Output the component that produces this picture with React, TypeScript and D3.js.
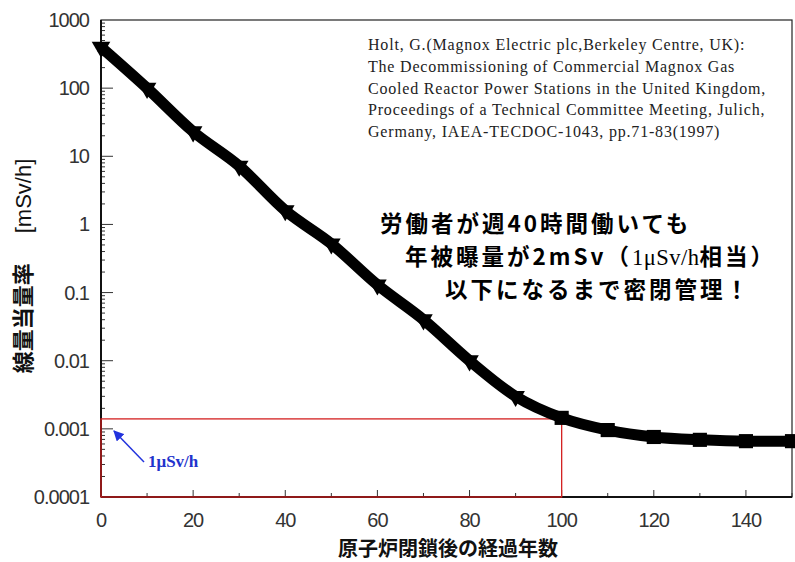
import React, { useRef, useEffect } from "react";
import * as d3 from "d3";

// years after shutdown and dose rate (mSv/h)
const years = [0, 10, 20, 30, 40, 50, 60, 70, 80, 90, 100, 110, 120, 130, 140, 150];
const doseRate = [400, 100, 23, 7.2, 1.6, 0.52, 0.13, 0.04, 0.01, 0.003, 0.00145, 0.00096, 0.00076, 0.00069, 0.00066, 0.00066];
const yTicks = [0.0001, 0.001, 0.01, 0.1, 1, 10, 100, 1000];
const yTickLabels = ["0.0001", "0.001", "0.01", "0.1", "1", "10", "100", "1000"];
const xTicks = [0, 20, 40, 60, 80, 100, 120, 140];
const limitYear = 100;
const limitRate = 0.0014;

const citation = [
  "Holt, G.(Magnox  Electric  plc,Berkeley  Centre, UK):",
  "The Decommissioning  of Commercial  Magnox  Gas",
  "Cooled Reactor Power Stations in the United Kingdom,",
  "Proceedings of a Technical Committee Meeting, Julich,",
  "Germany,  IAEA-TECDOC-1043, pp.71-83(1997)",
];

export default function App() {
  const ref = useRef<SVGSVGElement>(null);

  useEffect(() => {
    const svg = d3.select(ref.current);
    svg.selectAll("*").remove();

    const width = 795;
    const height = 562;
    const margin = { top: 20, right: 3, bottom: 65, left: 101 };
    const innerW = width - margin.left - margin.right;
    const innerH = height - margin.top - margin.bottom;

    const x = d3.scaleLinear().domain([0, 150]).range([0, innerW]);
    const y = d3.scaleLog().domain([0.0001, 1000]).range([innerH, 0]);

    const g = svg.append("g").attr("transform", `translate(${margin.left},${margin.top})`);

    // frame
    g.append("rect")
      .attr("x", 0).attr("y", 0)
      .attr("width", innerW).attr("height", innerH)
      .attr("fill", "none").attr("stroke", "#222").attr("stroke-width", 1.2);

    // y minor ticks (inside)
    const minor: number[] = [];
    for (let e = -4; e < 3; e++) for (let m = 1; m < 10; m++) minor.push(m * Math.pow(10, e));
    g.append("g").selectAll("line").data(minor).join("line")
      .attr("x1", 0).attr("x2", (d) => (Math.abs(Math.log10(d) % 1) < 1e-9 ? 12 : 4))
      .attr("y1", (d) => y(d)).attr("y2", (d) => y(d))
      .attr("stroke", "#333").attr("stroke-width", 1);

    // x ticks (inside, bottom)
    g.append("g").selectAll("line").data(d3.range(0, 151, 10)).join("line")
      .attr("x1", (d) => x(d)).attr("x2", (d) => x(d))
      .attr("y1", innerH).attr("y2", (d) => innerH - (d % 20 === 0 ? 7 : 4))
      .attr("stroke", "#333").attr("stroke-width", 1);

    // left + bottom axis lines heavier
    g.append("line").attr("x1", 0).attr("x2", 0).attr("y1", 0).attr("y2", innerH)
      .attr("stroke", "#111").attr("stroke-width", 2);
    g.append("line").attr("x1", 0).attr("x2", innerW).attr("y1", innerH).attr("y2", innerH)
      .attr("stroke", "#111").attr("stroke-width", 2);

    // tick labels
    g.append("g").selectAll("text").data(yTicks).join("text")
      .attr("x", -12).attr("y", (d) => y(d) + 7)
      .attr("text-anchor", "end")
      .attr("font-family", "Liberation Sans, Arial, sans-serif")
      .attr("font-size", 20).attr("fill", "#333")
      .attr("letter-spacing", -1)
      .text((d, i) => yTickLabels[i]);

    g.append("g").selectAll("text").data(xTicks).join("text")
      .attr("x", (d) => x(d)).attr("y", innerH + 30)
      .attr("text-anchor", "middle")
      .attr("font-family", "Liberation Sans, Arial, sans-serif")
      .attr("font-size", 20).attr("fill", "#333")
      .attr("letter-spacing", -1)
      .text((d) => d);

    // red 1uSv/h box
    g.append("rect")
      .attr("x", x(0)).attr("y", y(limitRate))
      .attr("width", x(limitYear) - x(0)).attr("height", innerH - y(limitRate))
      .attr("fill", "none").attr("stroke", "#d42020").attr("stroke-width", 1.3);

    // curve
    const line = d3.line<number>()
      .x((d, i) => x(years[i]))
      .y((d) => y(d))
      .curve(d3.curveMonotoneX);
    g.append("path").attr("d", line(doseRate))
      .attr("fill", "none").attr("stroke", "#000").attr("stroke-width", 11)
      .attr("stroke-linejoin", "round");

    // markers
    g.append("g").selectAll("path").data(doseRate).join("path")
      .attr("transform", (d, i) => `translate(${x(years[i])},${y(d)}) rotate(${i < 10 ? 180 : 0})`)
      .attr("d", (d, i) => d3.symbol().type(i < 10 ? d3.symbolTriangle : d3.symbolSquare).size(i < 10 ? 150 : 200)())
      .attr("fill", "#000");

    // blue arrow + label
    svg.append("defs").append("marker")
      .attr("id", "arr").attr("viewBox", "0 0 10 10").attr("refX", 9).attr("refY", 5)
      .attr("markerWidth", 7).attr("markerHeight", 7).attr("orient", "auto")
      .append("path").attr("d", "M0,0 L10,5 L0,10 Z").attr("fill", "#2233dd");
    g.append("line")
      .attr("x1", 43).attr("y1", 442).attr("x2", 13).attr("y2", 411)
      .attr("stroke", "#2233dd").attr("stroke-width", 1.5).attr("marker-end", "url(#arr)");
    g.append("text").attr("x", 47).attr("y", 447)
      .attr("font-family", "Liberation Serif, Times New Roman, serif")
      .attr("font-weight", "bold").attr("font-size", 17).attr("fill", "#2233cc")
      .text("1μSv/h");

    // citation
    svg.append("g").selectAll("text").data(citation).join("text")
      .attr("x", 368).attr("y", (d, i) => 50 + i * 21.8)
      .attr("font-family", "Liberation Serif, Times New Roman, serif")
      .attr("font-size", 16).attr("letter-spacing", 0.8).attr("fill", "#222")
      .text((d) => d);

    // Japanese callout
    const jp = svg.append("g")
      .attr("font-family", "Noto Sans CJK JP, sans-serif")
      .attr("font-weight", "bold").attr("font-size", 22.5).attr("letter-spacing", 3)
      .attr("fill", "#000");
    jp.append("text").attr("x", 380).attr("y", 232).text("労働者が週40時間働いても");
    const l2 = jp.append("text").attr("x", 405).attr("y", 265);
    l2.append("tspan").text("年被曝量が2mSv（");
    l2.append("tspan").attr("font-family", "Liberation Serif, serif").attr("font-weight", "normal").attr("letter-spacing", 0.5).text("1μSv/h");
    l2.append("tspan").text("相当）");
    jp.append("text").attr("x", 445).attr("y", 298).text("以下になるまで密閉管理！");

    // axis titles
    const yl = svg.append("text")
      .attr("transform", `translate(31,266) rotate(-90)`)
      .attr("text-anchor", "middle")
      .attr("font-size", 22).attr("fill", "#111");
    yl.append("tspan").attr("font-family", "Noto Sans CJK JP, sans-serif").attr("font-weight", "bold").text("線量当量率");
    yl.append("tspan").attr("font-family", "Liberation Sans, Arial, sans-serif").attr("dx", 30).text("[mSv/h]");

    svg.append("text")
      .attr("x", 448).attr("y", 556)
      .attr("text-anchor", "middle")
      .attr("font-family", "Noto Sans CJK JP, sans-serif")
      .attr("font-weight", "bold").attr("font-size", 20).attr("fill", "#111")
      .text("原子炉閉鎖後の経過年数");
  }, []);

  return (
    <svg ref={ref} width={795} height={562}
      style={{ position: "absolute", left: 0, top: 0, background: "#fff" }} />
  );
}
